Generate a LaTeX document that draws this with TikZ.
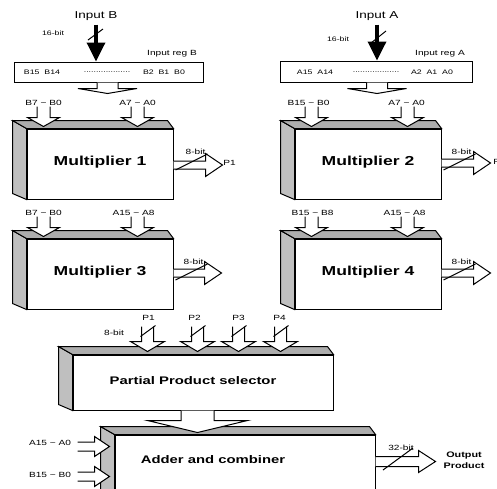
\documentclass[tikz,border=0pt]{standalone}
\usepackage{fontspec}
\setmainfont{Liberation Sans}[FakeStretch=1.35]
\usetikzlibrary{arrows.meta,calc}

\definecolor{sidegray}{rgb}{0.75,0.75,0.75}
\definecolor{topgray}{rgb}{0.68,0.68,0.68}

\tikzset{
  lbl/.style={font=\fontsize{7.5}{8}\selectfont, inner sep=0pt},
  tinylbl/.style={font=\fontsize{6.5}{7}\selectfont, inner sep=0pt},
  inlbl/.style={font=\fontsize{10}{11}\selectfont, inner sep=0pt},
  blocktxt/.style={font=\bfseries\fontsize{13}{14}\selectfont, inner sep=0pt},
  face/.style={draw, line width=1pt, fill=white, inner sep=0pt},
  hollow/.style={draw, line width=1pt, fill=white},
  bitmark/.style={line width=1pt},
  inarrow/.style={line width=3.5pt, -{Triangle[width=18pt,length=19pt]}}
}

% 3d block: name, centre, width, height
\newcommand{\slab}[4]{%
  \node[face, minimum width=#3, minimum height=#4] (#1) at #2 {};
  \draw[line width=1pt, fill=sidegray] (#1.north west) -- ++(-14,-8) -- ([shift={(-14,-6)}]#1.south west) -- (#1.south west) -- cycle;
  \draw[line width=1pt, fill=topgray] (#1.north west) -- ++(-14,-8) -- ([shift={(-6,-8)}]#1.north east) -- (#1.north east) -- cycle;
}
% hollow arrows: tip, stem half width, head half width, stem length, head length
\newcommand{\hollowdown}[5]{%
  \begin{scope}[shift={(#1)}]
    \draw[hollow] (-#2,-#4-#5) -- (-#2,-#5) -- (-#3,-#5) -- (0,0) -- (#3,-#5) -- (#2,-#5) -- (#2,-#4-#5);
  \end{scope}}
\newcommand{\hollowright}[5]{%
  \begin{scope}[shift={(#1)}]
    \draw[hollow] (-#4-#5,-#2) -- (-#5,-#2) -- (-#5,-#3) -- (0,0) -- (-#5,#3) -- (-#5,#2) -- (-#4-#5,#2);
  \end{scope}}

\begin{document}
\begin{tikzpicture}[x=1pt,y=-1pt]
    \useasboundingbox (0,0) rectangle (497,488);

    % input registers
    \node[inlbl] (inB) at (96,16) {Input B};
    \node[face, minimum width=189pt, minimum height=20pt] (regB) at (108.5,72) {};   % reg B
    \draw[inarrow] ([yshift=-4pt]inB.south) -- (inB.south |- regB.north);
    \draw[bitmark] (88,40) -- (103,29);
    \node[tinylbl] (bitB) at (53,33) {16-bit};
    \node[lbl] (regBname) at (172,54) {Input reg B};
    \node[tinylbl] (regBhi) at (42,72) {B15\ \ B14};
    \node[tinylbl] (regBdots) at (107,72) {...................};
    \node[tinylbl] (regBlo) at (164,72) {B2\ \ B1\ \ B0};
    \coordinate (regBtip) at ($(regB.south)+(-1,11)$);
    \hollowdown{regBtip}{10.5}{29.5}{6}{5}

    \node[inlbl] (inA) at (377,16) {Input A};
    \node[face, minimum width=192pt, minimum height=21pt] (regA) at (376,71.5) {};   % reg A
    \draw[inarrow] ([yshift=-4pt]inA.south) -- (inA.south |- regA.north);
    \draw[bitmark] (371,43) -- (386,31);
    \node[tinylbl] (bitA) at (338,39) {16-bit};
    \node[lbl] (regAname) at (440,54) {Input reg A};
    \node[tinylbl] (regAhi) at (315,72) {A15\ \ A14};
    \node[tinylbl] (regAdots) at (376,72) {...................};
    \node[tinylbl] (regAlo) at (432,72) {A2\ \ A1\ \ A0};
    \coordinate (regAtip) at ($(regA.south)+(1,11)$);
    \hollowdown{regAtip}{10.5}{29.5}{6}{5}

    % multiplier 1
    \slab{mult1}{(100,164)}{146pt}{70pt}
    \node[blocktxt] (mult1txt) at ($(mult1.center)+(0,-2)$) {Multiplier 1};
    \coordinate (m1a) at ($(mult1.north west)+(17,-2)$);
    \coordinate (m1b) at ($(mult1.north west)+(111,-2)$);
    \hollowdown{m1a}{6.5}{16}{11}{9}
    \hollowdown{m1b}{6.5}{16}{11}{9}
    \node[lbl] (m1al) at ($(m1a)+(0,-24)$) {B7 \textasciitilde\ B0};
    \node[lbl] (m1bl) at ($(m1b)+(0,-24)$) {A7 \textasciitilde\ A0};
    \coordinate (m1out) at ($(mult1.east)+(49,1)$);
    \hollowright{m1out}{4}{11.5}{32}{17}
    \draw[bitmark] ($(mult1.east)+(2,6)$) -- ($(mult1.east)+(34,-10)$);
    \node[lbl] (m1bit) at ($(mult1.east)+(22,-12)$) {8-bit};
    \node[lbl] (p1out) at ($(mult1.east)+(56,-1)$) {P1};

    % multiplier 2
    \slab{mult2}{(368,164)}{146pt}{70pt}
    \node[blocktxt] (mult2txt) at ($(mult2.center)+(0,-2)$) {Multiplier 2};
    \coordinate (m2a) at ($(mult2.north west)+(17,-2)$);
    \coordinate (m2b) at ($(mult2.north west)+(113,-2)$);
    \hollowdown{m2a}{6.5}{16}{11}{9}
    \hollowdown{m2b}{6.5}{16}{11}{9}
    \node[lbl] (m2al) at ($(m2a)+(-3,-24)$) {B15 \textasciitilde\ B0};
    \node[lbl] (m2bl) at ($(m2b)+(-1,-24)$) {A7 \textasciitilde\ A0};
    \coordinate (m2out) at ($(mult2.east)+(49,-1)$);
    \hollowright{m2out}{4}{11.5}{32}{17}
    \draw[bitmark] ($(mult2.east)+(2,6)$) -- ($(mult2.east)+(34,-10)$);
    \node[lbl] (m2bit) at ($(mult2.east)+(20,-12)$) {8-bit};
    \node[lbl] (p2out) at ($(mult2.east)+(58,-2)$) {P2};

    % multiplier 3
    \slab{mult3}{(100,274)}{146pt}{70pt}
    \node[blocktxt] (mult3txt) at ($(mult3.center)+(0,-2)$) {Multiplier 3};
    \coordinate (m3a) at ($(mult3.north west)+(17,-2)$);
    \coordinate (m3b) at ($(mult3.north west)+(111,-2)$);
    \hollowdown{m3a}{6.5}{16}{11}{9}
    \hollowdown{m3b}{6.5}{16}{11}{9}
    \node[lbl] (m3al) at ($(m3a)+(0,-24)$) {B7 \textasciitilde\ B0};
    \node[lbl] (m3bl) at ($(m3b)+(-4,-24)$) {A15 \textasciitilde\ A8};
    \coordinate (m3out) at ($(mult3.east)+(48,-1)$);
    \hollowright{m3out}{4}{11.5}{31}{17}
    \draw[bitmark] ($(mult3.east)+(2,6)$) -- ($(mult3.east)+(34,-10)$);
    \node[lbl] (m3bit) at ($(mult3.east)+(20,-12)$) {8-bit};

    % multiplier 4
    \slab{mult4}{(368,274)}{146pt}{70pt}
    \node[blocktxt] (mult4txt) at ($(mult4.center)+(0,-2)$) {Multiplier 4};
    \coordinate (m4a) at ($(mult4.north west)+(17,-2)$);
    \coordinate (m4b) at ($(mult4.north west)+(113,-2)$);
    \hollowdown{m4a}{6.5}{16}{11}{9}
    \hollowdown{m4b}{6.5}{16}{11}{9}
    \node[lbl] (m4al) at ($(m4a)+(1,-24)$) {B15 \textasciitilde\ B8};
    \node[lbl] (m4bl) at ($(m4b)+(-3,-24)$) {A15 \textasciitilde\ A8};
    \coordinate (m4out) at ($(mult4.east)+(49,-1)$);
    \hollowright{m4out}{4}{11.5}{32}{17}
    \draw[bitmark] ($(mult4.east)+(2,6)$) -- ($(mult4.east)+(34,-10)$);
    \node[lbl] (m4bit) at ($(mult4.east)+(20,-12)$) {8-bit};

    % partial product selector
    \slab{pps}{(203,382.5)}{260pt}{55pt}
    \node[font=\bfseries\fontsize{11}{12}\selectfont, inner sep=0pt] (ppstxt) at ($(pps.center)+(-10,-2)$) {Partial Product selector};
    \coordinate (pin1) at ($(pps.north west)+(75,-3)$);
    \coordinate (pin2) at ($(pps.north west)+(125,-3)$);
    \coordinate (pin3) at ($(pps.north west)+(166,-3)$);
    \coordinate (pin4) at ($(pps.north west)+(208,-3)$);
    \hollowdown{pin1}{6}{17}{15}{10}
    \hollowdown{pin2}{6}{17}{15}{10}
    \hollowdown{pin3}{6}{17}{15}{10}
    \hollowdown{pin4}{6}{17}{15}{10}
    \draw[bitmark] ($(pin1)+(-7,-15)$) -- ($(pin1)+(8,-26)$);
    \draw[bitmark] ($(pin2)+(-7,-15)$) -- ($(pin2)+(8,-26)$);
    \draw[bitmark] ($(pin3)+(-7,-15)$) -- ($(pin3)+(8,-26)$);
    \draw[bitmark] ($(pin4)+(-7,-15)$) -- ($(pin4)+(8,-26)$);
    \node[lbl] (pl1) at ($(pin1)+(1,-34)$) {P1};
    \node[lbl] (pl2) at ($(pin2)+(-3,-34)$) {P2};
    \node[lbl] (pl3) at ($(pin3)+(0,-34)$) {P3};
    \node[lbl] (pl4) at ($(pin4)+(-1,-34)$) {P4};
    \node[lbl] (ppsbit) at (114,333) {8-bit};

    % adder and combiner
    \slab{adder}{(245,470)}{260pt}{70pt}
    \node[font=\bfseries\fontsize{11}{12}\selectfont, inner sep=0pt] (addtxt) at (213,460) {Adder and combiner};
    \coordinate (ppsdown) at ($(pps.south west)+(125,22)$);
    \hollowdown{ppsdown}{16.5}{50}{10}{12}
    \coordinate (ain) at ($(adder.north west)+(-5,12)$);
    \coordinate (bin) at ($(adder.north west)+(-5,42)$);
    \hollowright{ain}{4.5}{10}{17}{15}
    \hollowright{bin}{4.5}{10}{17}{15}
    \node[lbl] (ainl) at (50,443) {A15 \textasciitilde\ A0};
    \node[lbl] (binl) at (50,475) {B15 \textasciitilde\ B0};
    \coordinate (addout) at ($(adder.north east)+(60,27)$);
    \hollowright{addout}{5}{11}{43}{17}
    \draw[bitmark] (383,470) -- (413,448);
    \node[lbl] (addbit) at (401,448) {32-bit};
    \node[font=\bfseries\fontsize{8}{11}\selectfont, align=center, inner sep=0pt] (outprod) at (464,460) {Output\\Product};

\end{tikzpicture}
\end{document}
